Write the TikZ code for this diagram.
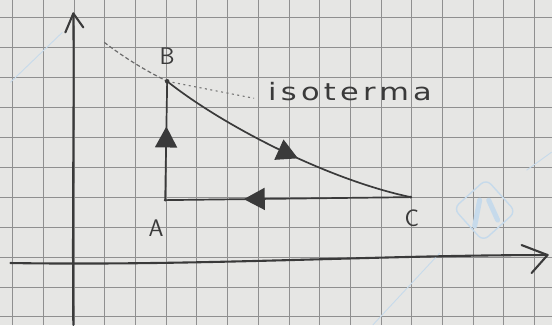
\documentclass[tikz,border=0pt]{standalone}
\usepackage{fontspec}
\newfontfamily\handfont[LetterSpace=14]{DejaVu Sans}
\usetikzlibrary{arrows.meta,decorations.markings}
\definecolor{Paper}{HTML}{E6E6E4}
\definecolor{GridLine}{HTML}{8F8F8F}
\definecolor{Pencil}{HTML}{3A3A3A}
\definecolor{Mark}{HTML}{C6DAEB}

\begin{document}
\begin{tikzpicture}[x=1pt,y=-1pt,
  gridline/.style={draw=GridLine,line width=0.9pt},
  watermark/.style={draw=Mark,line width=0.9pt},
  pencil/.style={draw=Pencil,line width=1.7pt,line cap=round,line join=round},
  axisline/.style={draw=Pencil,line width=2.1pt,line cap=round,line join=round},
  dashline/.style={draw=Pencil!75,line width=1.2pt,dash pattern=on 4pt off 2.5pt},
  dotline/.style={draw=Pencil!70,line width=1.1pt,dash pattern=on 2pt off 3.5pt},
  flowarrow/.style={postaction={decorate},decoration={markings,mark=at position #1 with {\arrow{Triangle[length=21pt,width=22pt]}}}},
  letter/.style={text=Pencil,font=\sffamily\fontsize{24}{24}\selectfont,inner sep=0pt}
]
\fill[Paper] (0,0) rectangle (552,325);
\foreach \i in {0,...,17} \draw[gridline] ({12.3+30.75*\i},0) -- ({12.3+30.75*\i},325);
\foreach \j in {0,...,10} \draw[gridline] (0,{17+30*\j}) -- (552,{17+30*\j});
% watermark
\draw[watermark] (10,82) -- (62,32); \draw[watermark] (527,170) -- (552,152); \draw[watermark] (440,253) -- (373,325);
\draw[watermark,line width=1.4pt,rounded corners=7pt,rotate around={42:(485,210)}] (463,188) rectangle (507,232);
\draw[Mark,line width=5pt,line cap=round] (480,200) -- (475,226); \draw[Mark,line width=5pt,line cap=round] (489,200) -- (498,220);
% axes
\coordinate (Ybot) at (73,325); \coordinate (Ytip) at (73,13); \coordinate (Yl) at (65,32); \coordinate (Yr) at (83,27);
\coordinate (Xbeg) at (10,263); \coordinate (Xtip) at (548,255); \coordinate (Xu) at (522,245); \coordinate (Xd) at (532,273);
\draw[axisline] (Ybot) .. controls (72,200) and (74,100) .. (Ytip);
\draw[axisline] (Yl) -- (Ytip) -- (Yr);
\draw[axisline] (Xbeg) .. controls (200,266) and (380,255) .. (Xtip);
\draw[axisline] (Xu) -- (Xtip) -- (Xd);
% cycle
\coordinate (A) at (165,200); \coordinate (B) at (167,81); \coordinate (C) at (411,197);
\coordinate (E) at (104,42); \coordinate (L) at (254,98);
\draw[dashline] (E) .. controls (125,58) and (145,70) .. (B);
\draw[dotline] (B) -- (L);
\draw[pencil,flowarrow=0.62] (A) -- (B);
\draw[pencil,flowarrow=0.56] (B) .. controls (225,127) and (330,180) .. (C);
\draw[pencil,flowarrow=0.68] (C) -- (A);
\fill[Pencil] (B) circle (2.3pt); \fill[Pencil] (A) circle (1.5pt); \fill[Pencil] (C) circle (1.5pt);
\node[letter] (labB) at (167,56) {B}; \node[letter] (labA) at (156,228) {A}; \node[letter] (labC) at (412,218) {C};
\node[letter,anchor=base west] (iso) at (268,100) {\scalebox{1.27}[1]{\handfont\fontsize{24}{24}\selectfont isoterma}};
\end{tikzpicture}
\end{document}
